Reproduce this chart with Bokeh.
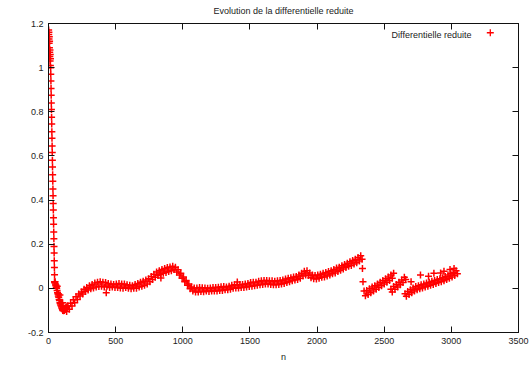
from bokeh.plotting import figure
from bokeh.models import LinearAxis, FixedTicker, Range1d, Label
from bokeh.embed import file_html
from bokeh.resources import INLINE

# --- data -------------------------------------------------------------
# first iterations: dense cluster near 1, then a steep fall towards 0
head_n = list(range(1, 46))
head_v = [1.17, 1.15, 1.16, 1.13, 1.11, 1.14, 1.09, 1.12, 1.07, 1.05, 1.08, 1.03,
          1.06, 1.01, 1.04, 1.00,
          0.97, 0.94, 0.905, 0.875, 0.84, 0.81, 0.775, 0.745, 0.71, 0.68, 0.645,
          0.615, 0.58, 0.55, 0.515, 0.485, 0.45, 0.42, 0.385, 0.355, 0.32, 0.29,
          0.255, 0.225, 0.19, 0.16, 0.125, 0.095, 0.062]

# the sharp dip just after the fall, sampled every 3 iterations
dip_n = list(range(46, 141, 3))
dip_v = [0.025, 0.03, 0.02, 0.015, 0.005, 0.0, -0.01, -0.02, -0.025, -0.035,
         -0.04, -0.05, -0.055, -0.065, -0.07, -0.075, -0.08, -0.085, -0.09, -0.095,
         -0.1, -0.098, -0.102, -0.096, -0.1, -0.092, -0.096, -0.088, -0.092, -0.085,
         -0.088, -0.08]

# main run, sampled every 10 iterations from n = 45 to n = 2335
main_n = list(range(45, 2336, 10))
main_v = [0.03, 0.012, 0.01, -0.025, -0.03, -0.065, -0.065, -0.095, -0.09, -0.105,
          -0.08, -0.095, -0.068, -0.08, -0.052, -0.065, -0.038, -0.05, -0.026, -0.035,
          -0.016, -0.026, -0.004, -0.014, 0.004, -0.008, 0.012, -0.002, 0.018, 0.002,
          0.024, 0.006, 0.028, 0.008, 0.03, 0.01, 0.028, 0.006, 0.026, 0.01,
          0.022, 0.004, 0.02, 0.006, 0.018, 0.004, 0.02, 0.004, 0.022, 0.002,
          0.02, 0.0, 0.02, 0.004, 0.016, 0.0, 0.014, -0.002, 0.012, 0.0,
          0.018, 0.0, 0.022, 0.006, 0.028, 0.01, 0.032, 0.014, 0.038, 0.02,
          0.044, 0.03, 0.054, 0.04, 0.064, 0.05, 0.074, 0.058, 0.08, 0.064,
          0.086, 0.068, 0.09, 0.072, 0.094, 0.076, 0.097, 0.08, 0.1, 0.086,
          0.096, 0.074, 0.084, 0.06, 0.068, 0.046, 0.052, 0.03, 0.036, 0.014,
          0.02, -0.002, 0.006, -0.012, 0.002, -0.016, 0.002, -0.016, 0.004, -0.014,
          0.003, -0.015, 0.002, -0.012, 0.0, -0.014, 0.002, -0.012, 0.004, -0.012,
          0.004, -0.012, 0.005, -0.01, 0.007, -0.01, 0.008, -0.006, 0.006, -0.006,
          0.01, -0.004, 0.014, 0.0, 0.016, 0.002, 0.016, 0.002, 0.018, 0.004,
          0.018, 0.004, 0.02, 0.006, 0.022, 0.008, 0.026, 0.01, 0.028, 0.012,
          0.028, 0.014, 0.032, 0.016, 0.034, 0.018, 0.036, 0.02, 0.036, 0.02,
          0.034, 0.018, 0.034, 0.016, 0.032, 0.016, 0.034, 0.018, 0.036, 0.02,
          0.038, 0.022, 0.042, 0.026, 0.046, 0.03, 0.048, 0.034, 0.052, 0.038,
          0.054, 0.04, 0.06, 0.046, 0.068, 0.056, 0.078, 0.06, 0.08, 0.058,
          0.07, 0.048, 0.06, 0.044, 0.058, 0.042, 0.06, 0.046, 0.064, 0.05,
          0.068, 0.052, 0.072, 0.056, 0.076, 0.06, 0.08, 0.066, 0.086, 0.07,
          0.092, 0.076, 0.096, 0.082, 0.102, 0.088, 0.108, 0.094, 0.114, 0.1,
          0.12, 0.104, 0.126, 0.11, 0.132, 0.116, 0.14, 0.124, 0.148, 0.132]

# after the break near n = 2340: three short rising runs
seg_b_n = list(range(2350, 2571, 10))
seg_b_v = [-0.012, -0.034, -0.01, -0.028, -0.002, -0.02, 0.006, -0.012, 0.012, -0.004,
           0.02, 0.004, 0.028, 0.012, 0.036, 0.02, 0.044, 0.028, 0.052, 0.036,
           0.06, 0.046, 0.068]

seg_c_n = list(range(2550, 2661, 10))
seg_c_v = [-0.004, -0.016, 0.008, -0.004, 0.018, 0.006, 0.028, 0.016, 0.038, 0.026,
           0.05, 0.04]

seg_d_n = list(range(2655, 3046, 10))
seg_d_v = [-0.024, -0.036, -0.014, -0.028, -0.006, -0.02, 0.002, -0.012, 0.008, -0.006,
           0.012, -0.002, 0.016, 0.002, 0.02, 0.006, 0.024, 0.01, 0.028, 0.014,
           0.032, 0.018, 0.036, 0.022, 0.04, 0.026, 0.044, 0.03, 0.048, 0.034,
           0.054, 0.04, 0.06, 0.046, 0.066, 0.052, 0.072, 0.058, 0.08, 0.066]

# isolated iterations away from the main band
stray_n = [430, 837, 1406, 2338, 2342, 2700, 2770, 2830, 2870, 2920, 2945, 2990, 3020]
stray_v = [-0.02, 0.047, 0.029, 0.09, 0.03, 0.03, 0.06, 0.055, 0.068, 0.07, 0.078,
           0.085, 0.09]

x_ticks = [0, 500, 1000, 1500, 2000, 2500, 3000, 3500]
y_ticks = [-0.2, 0, 0.2, 0.4, 0.6, 0.8, 1, 1.2]
y_tick_labels = ["-0.2", "0", "0.2", "0.4", "0.6", "0.8", "1", "1.2"]

title_text = "Evolution de la differentielle reduite"
series_name = "Differentielle reduite"

n_all = head_n + dip_n + main_n + seg_b_n + seg_c_n + seg_d_n + stray_n
v_all = head_v + dip_v + main_v + seg_b_v + seg_c_v + seg_d_v + stray_v

# --- figure -----------------------------------------------------------
FONT = "Liberation Sans"
TXT = "#222222"
AX = "#111111"
RED = "#ff0000"

p = figure(width=531, height=368, output_backend="svg", toolbar_location=None,
           x_range=Range1d(0, 3500), y_range=Range1d(-0.2, 1.2),
           min_border_left=48, min_border_right=13, min_border_top=23,
           min_border_bottom=36, x_axis_label="n")
p.grid.visible = False
p.outline_line_color = AX
p.outline_line_width = 1
p.background_fill_color = "white"
p.border_fill_color = "white"

p.title.text = title_text
p.title.align = "center"
p.title.vertical_align = "top"
p.title.text_font = FONT
p.title.text_font_size = "9px"
p.title.text_font_style = "normal"
p.title.text_color = TXT
p.title.standoff = 11

p.scatter(n_all, v_all, marker="cross", size=7, line_color=RED, line_width=1.5)

# legend entry: text followed by its sample marker
key_y = 1.15
p.add_layout(Label(x=3150, y=key_y, text=series_name, text_align="right",
                   text_baseline="middle", text_font=FONT, text_font_size="9px",
                   text_color=TXT))
p.scatter([3290], [key_y + 0.008], marker="cross", size=7, line_color=RED,
          line_width=1.3)

# axes with inward ticks, mirrored on top and right
def style_axis(ax, ticks, show_labels=True):
    ax.ticker = FixedTicker(ticks=ticks)
    ax.major_tick_in = 6
    ax.major_tick_out = 0
    ax.minor_tick_in = 0
    ax.minor_tick_out = 0
    ax.axis_line_color = AX
    ax.major_tick_line_color = AX
    ax.major_label_text_font = FONT
    if show_labels:
        ax.major_label_text_color = TXT
        ax.major_label_text_font_size = "9px"
        ax.major_label_standoff = 5
    else:
        ax.major_label_text_color = None
        ax.major_label_text_font_size = "1px"
        ax.major_label_standoff = 0

style_axis(p.xaxis[0], x_ticks)
style_axis(p.yaxis[0], y_ticks)
p.yaxis[0].major_label_overrides = {t: s for t, s in zip(y_ticks, y_tick_labels)}
p.xaxis[0].axis_label_text_font = FONT
p.xaxis[0].axis_label_text_font_size = "9px"
p.xaxis[0].axis_label_text_font_style = "normal"
p.xaxis[0].axis_label_text_color = TXT
p.xaxis[0].axis_label_standoff = 5

top_ax = LinearAxis()
style_axis(top_ax, x_ticks, show_labels=False)
p.add_layout(top_ax, "above")
right_ax = LinearAxis()
style_axis(right_ax, y_ticks, show_labels=False)
p.add_layout(right_ax, "right")

open("out.html", "w").write(file_html(p, INLINE))
